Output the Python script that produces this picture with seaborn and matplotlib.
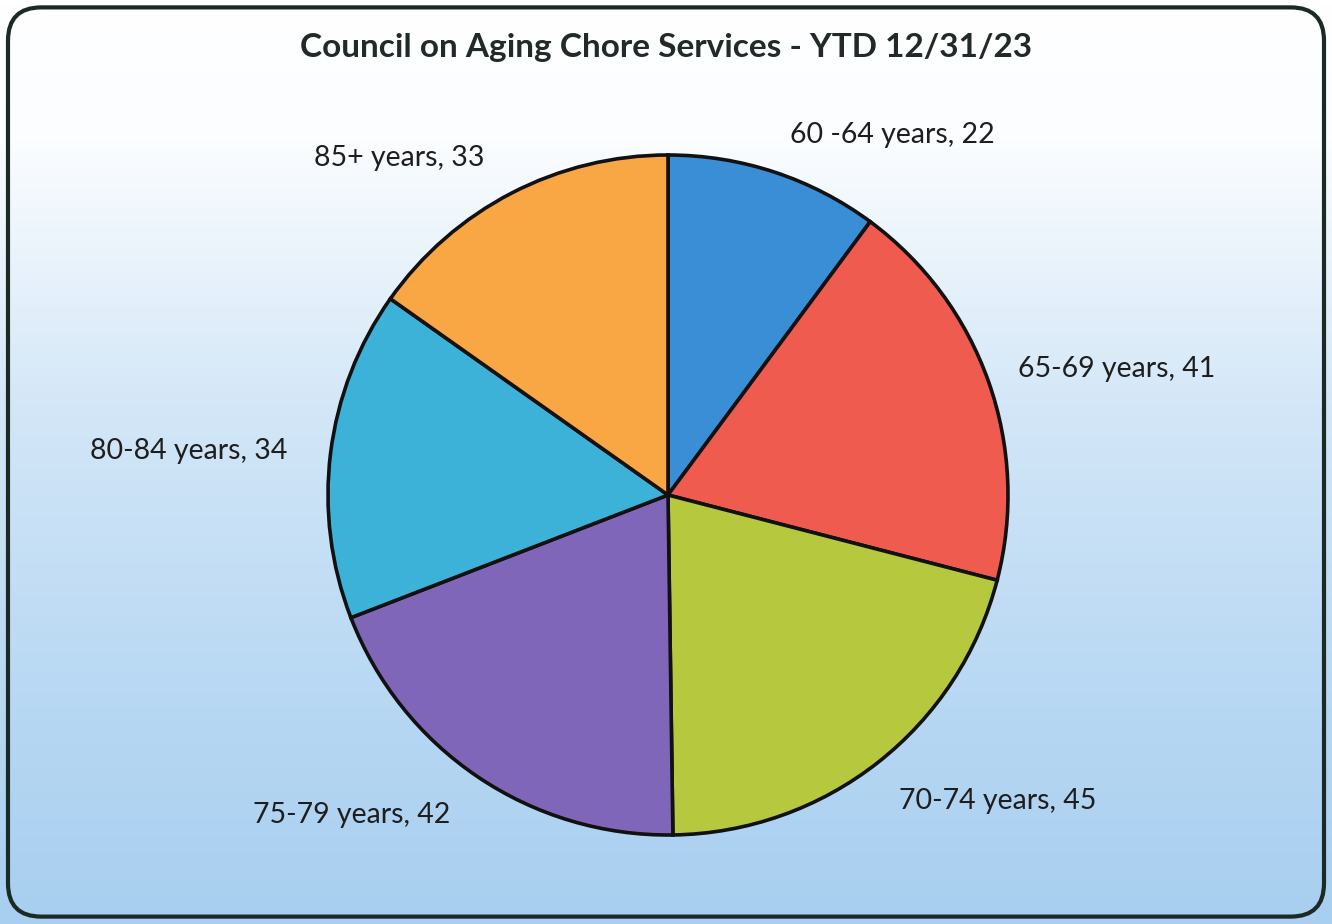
import numpy as np
import matplotlib.pyplot as plt
import seaborn as sns
from matplotlib.patches import FancyBboxPatch
from matplotlib.colors import LinearSegmentedColormap

sns.set_theme(style="white")
plt.rcParams['font.family'] = ['Lato', 'DejaVu Sans']

# data
age_groups = ['60 -64 years', '65-69 years', '70-74 years', '75-79 years', '80-84 years', '85+ years']
counts = [22, 41, 45, 42, 34, 33]
slice_colors = ['#3a8ed6', '#ef5b4f', '#b6c83e', '#8066b8', '#3db2d9', '#f8a744']
# label anchor spots (pie radius units), picked to match the original layout
label_xy = [(0.66, 1.06), (1.32, 0.37), (0.97, -0.90), (-0.93, -0.94), (-1.41, 0.13), (-0.79, 0.99)]

W, H = 1332, 924
fig = plt.figure(figsize=(W / 100, H / 100), dpi=100)

# background gradient + rounded frame
bg = fig.add_axes([0, 0, 1, 1])
bg.set_axis_off()
grad = np.linspace(0, 1, 256).reshape(-1, 1)
cmap = LinearSegmentedColormap.from_list(
    'bg', [(0, '#ffffff'), (0.15, '#fbfdff'), (0.45, '#d2e6f7'), (0.75, '#b8d8f3'), (1, '#a8cff0')])
bg.imshow(grad, cmap=cmap, aspect='auto', extent=[0, 1, 0, 1], origin='upper')
bg.set_xlim(0, 1)
bg.set_ylim(0, 1)
bg.add_patch(FancyBboxPatch((0.006, 0.008), 0.988, 0.984,
                            boxstyle='round,pad=0,rounding_size=0.025',
                            fill=False, ec='#1c2a26', lw=3, transform=bg.transAxes,
                            mutation_aspect=W / H))

ax = fig.add_axes([0, 0, 1, 1])
ax.set_axis_off()
ax.pie(counts, colors=slice_colors, startangle=90, counterclock=False,
       wedgeprops=dict(edgecolor='#111111', linewidth=2.6), radius=1.0)
cx, cy, r = 668, 495, 340
ax.set_xlim((0 - cx) / r, (W - cx) / r)
ax.set_ylim((cy - H) / r, cy / r)
ax.set_aspect('equal')

for name, n, (lx, ly) in zip(age_groups, counts, label_xy):
    ax.text(lx, ly, f'{name}, {n}', ha='center', va='center', fontsize=20.5, color='#1e1e1e')

fig.text(0.5, 1 - 47 / H, 'Council on Aging Chore Services - YTD 12/31/23',
         ha='center', va='center', fontsize=24, fontweight='bold', color='#222a26')

fig.savefig('out.png', dpi=100)
